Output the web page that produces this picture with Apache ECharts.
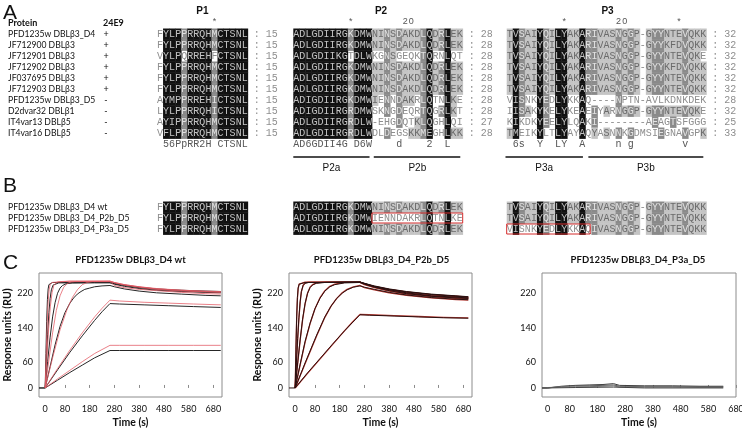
<!DOCTYPE html>
<html><head><meta charset="utf-8">
<script src="https://cdn.jsdelivr.net/npm/echarts@6/dist/echarts.min.js"></script>
<style>html,body{margin:0;padding:0;background:#fff}#c{width:742px;height:430px}</style>
</head><body><div id="c"></div>
<script>
// ================= DATA =================
const namesA = ["PFD1235w DBLβ3_D4","JF712900 DBLβ3","JF712901 DBLβ3","JF712902 DBLβ3","JF037695 DBLβ3","JF712903 DBLβ3","PFD1235w DBLβ3_D5","D2dvar32 DBLβ1","IT4var13 DBLβ5","IT4var16 DBLβ5"];
const bind24E9 = ["+","+","+","+","+","+","-","-","-","-"];
const namesB = ["PFD1235w DBLβ3_D4 wt","PFD1235w DBLβ3_D4_P2b_D5","PFD1235w DBLβ3_D4_P3a_D5"];

const p1SeqA = ["FYLPPRRQHMCTSNL","FYLPPRRQHMCTSNL","VYLPQRREHFCTSNL","FYLPPRRQHMCTSNL","FYLPPRRQHMCTSNL","FYLPPRRQHMCTSNL","AYMPPRREHICTSNL","LYLPPRRQHICTSNL","AYIPPRRQHMCTSNL","VFLPPRRQHMCTSNL"];
const p1ShadeA = [".kkkdkkkkdkkkkk",".kkkdkkkkdkkkkk",".kkk.kkkk.kkkkk",".kkkdkkkkdkkkkk",".kkkdkkkkdkkkkk",".kkkdkkkkdkkkkk",".kkkdkkkkdkkkkk",".kkkdkkkkdkkkkk",".kkkdkkkkdkkkkk",".kkkdkkkkdkkkkk"];
const p1LenA = ["15","15","15","15","15","15","15","15","15","15"];
const p1Cons = " 56PpRR2H CTSNL";
const p1Ruler = "         *     ";

const p2SeqA = ["ADLGDIIRGKDMWNINSDAKDLQDRLEK","ADLGDIIRGKDMWNINSDAKDLQDRLEK","ADLGDIIKGTDLWKGNSGEQKTQRNLQT","ADLGDIIRGKDMWNINSDAKDLQDRLEK","ADLGDIIRGKDMWNINSDAKDLQDRLEK","ADLGDIIRGKDMWNINSDAKDLQDRLEK","ADIGDIIRGKDMWIENNDAKRLQTNLKE","ADIGDIIRGRDMWSKNGDEQRTQGRLKT","ADLGDIIRGRDLW-EHGDQTKLQGHLQI","ADLGDIIRGRDLWDLDEGSKKMEGHLKK"];
const p2ShadeA = ["kkkkkkkkkdkkklldldllldkldkll","kkkkkkkkkdkkklldldllldkldkll","kkkkkkkkk.kkk..dl....dk..k..","kkkkkkkkkdkkklldldllldkldkll","kkkkkkkkkdkkklldldllldkldkll","kkkkkkkkkdkkklldldllldkldkll","kkkkkkkkkdkkkl.d.dll.dk..kl.","kkkkkkkkkdkkk..d.d...dk.dkl.","kkkkkkkkkdkkk....d..ldk..k..","kkkkkkkkkdkkk..d...lldk..kll"];
const p2LenA = ["28","28","28","28","28","28","28","28","27","28"];
const p2Cons = "AD6GDII4G D6W    d    2  L  ";
const p2Ruler = "         *        20        ";

const p3SeqA = ["TVSAIYQILYAKARIVASNGGP-GYYNTEVQKK","TVSAIYQILYAKARIVASNGGP-GYYKFDVQKK","TVSAIYQILYAKARIVASNGGP-GYYNTEVQKE","TVSAIYQILYAKARIVASNGGP-GYYKFDVQKK","TVSAIYQILYAKARIVASNGGP-GYYNTEVQKK","TVSAIYQILYAKARIVASNGGP-GYYNTEVQKK","VISNKYEDLYKKAQ----NPTN-AVLKDNKDEK","IISAKYKELYKEAEIYARNGGP-GYYNTEVQKE","KIKDKYEELYLQAKI--------AEAGTSFGGG","TMEIKYLTLYAYAQYASNNKGDMSIEGNAVGPK"];
const p3ShadeA = ["lkdllkdlkkllkddllldldl.lddllldlll","lkdllkdlkkllkddllldldl.lddllldlll","lkdllkdlkkllkddllldldl.lddllldll.","lkdllkdlkkllkddllldldl.lddllldlll","lkdllkdlkkllkddllldldl.lddllldlll","lkdllkdlkkllkddllldldl.lddllldlll",".kd..kd.kk..k.....d..............",".kdl.kd.kk..k.d.l.dldl.lddllldll.",".k...kd.kk..k.d.........d..d.....","lk...k..kk..k.l.l.d.d....d...d..l"];
const p3LenA = ["32","32","32","32","32","32","28","32","25","33"];
const p3Cons = " 6s  Y  LY  A     n g        v   ";
const p3Ruler = "         *        20        *   ";

const p1SeqB = ["FYLPPRRQHMCTSNL","FYLPPRRQHMCTSNL","FYLPPRRQHMCTSNL"];
const p1ShadeB = [".kkkdkkkkdkkkkk",".kkkdkkkkdkkkkk",".kkkdkkkkdkkkkk"];
const p2SeqB = ["ADLGDIIRGKDMWNINSDAKDLQDRLEK","ADIGDIIRGKDMWIENNDAKRLQTNLKE","ADLGDIIRGKDMWNINSDAKDLQDRLEK"];
const p2ShadeB = ["kkkkkkkkkdkkklldldllldkldkll","kkkkkkkkkdkkk........dk..k..","kkkkkkkkkdkkklldldllldkldkll"];
const p3SeqB = ["TVSAIYQILYAKARIVASNGGP-GYYNTEVQKK","TVSAIYQILYAKARIVASNGGP-GYYNTEVQKK","VISNKYEDLYKKAQIVASNGGP-GYYNTEVQKK"];
const p3ShadeB = ["lkdllkdlkkllkddllldldl.lddllldlll","lkdllkdlkkllkddllldldl.lddllldlll",".k...kd.kk..k.dllldldl.lddllldlll"];
// swapped-segment boxes: [row, fromCol, toCol]
const p2BoxB = [[1, 13, 28]];
const p3BoxB = [[2, 0, 13.8]];

// ---- SPR sensorgrams: [time (s), response (RU)] ----
const timeTicks = [0, 80, 180, 280, 380, 480, 580, 680];
const ruTicks = [0, 60, 140, 220];

const wtData1 = [[-25,0],[0,0],[3,80],[6,155],[9,205],[12,230],[15,240],[20,244],[30,245],[100,245],[200,246],[262,246],[280,243],[320,239],[380,234],[450,230],[550,227],[650,225],[710,224]];
const wtData2 = [[-25,0],[0,0],[5,65],[10,125],[15,175],[20,208],[25,228],[32,239],[40,243],[55,244],[100,244],[200,245],[262,245],[280,242],[320,238],[380,233],[450,229],[550,225],[650,223],[710,222]];
const wtData3 = [[0,0],[10,62],[20,118],[30,165],[40,198],[50,220],[60,232],[70,238],[85,242],[110,244],[200,244],[262,244],[280,241],[320,236],[380,231],[450,227],[550,224],[650,222],[710,221]];
const wtData4 = [[0,0],[20,50],[40,100],[60,143],[80,175],[100,197],[115,209],[130,218],[145,224],[160,229],[180,232],[200,235],[230,237],[262,238],[280,235],[320,230],[380,225],[450,221],[550,218],[650,215],[710,214]];
const wtData5 = [[0,0],[50,42],[100,83],[150,121],[200,157],[230,177],[262,196],[300,195],[400,193],[500,191],[600,189],[710,187]];
const wtData6 = [[0,0],[50,18],[100,36],[150,53],[200,70],[262,87],[300,87],[400,87],[500,87],[600,87],[710,87]];
const wtFit1 = [[0,0],[4,80],[8,150],[12,200],[16,228],[20,240],[27,245],[35,247],[100,248],[262,248],[280,245],[320,240],[380,235],[450,231],[550,227],[650,225],[710,224]];
const wtFit2 = [[0,0],[7,70],[14,138],[21,190],[28,222],[35,238],[45,245],[55,247],[100,248],[262,248],[280,245],[320,240],[380,235],[450,230],[550,227],[650,224],[710,223]];
const wtFit3 = [[0,0],[15,65],[30,128],[45,180],[60,214],[75,234],[90,243],[105,246],[120,247],[262,248],[280,244],[320,239],[380,234],[450,229],[550,225],[650,223],[710,222]];
const wtFit4 = [[0,0],[30,70],[60,135],[90,185],[110,210],[130,228],[150,240],[170,245],[190,247],[262,247],[280,238],[320,233],[380,229],[450,226],[550,222],[650,219],[710,218]];
const wtFit5 = [[0,0],[50,45],[100,88],[150,128],[200,165],[230,185],[262,204],[300,202],[400,199],[500,197],[600,195],[710,193]];
const wtFit6 = [[0,0],[50,21],[100,41],[150,61],[200,80],[262,99],[300,99],[400,99],[500,99],[600,99],[710,99]];

const p2bData1 = [[-25,0],[0,0],[3,90],[6,165],[9,210],[12,232],[16,241],[22,244],[40,245],[262,246],[280,243],[320,237],[380,230],[450,224],[550,218],[650,214],[700,212]];
const p2bData2 = [[0,0],[5,60],[10,115],[15,163],[20,200],[25,224],[32,238],[40,243],[55,245],[100,245],[262,246],[280,243],[320,236],[380,229],[450,223],[550,217],[650,213],[700,211]];
const p2bData3 = [[0,0],[10,58],[20,112],[30,160],[40,196],[50,220],[60,233],[70,239],[85,243],[120,245],[262,246],[280,242],[320,235],[380,228],[450,221],[550,214],[650,211],[700,209]];
const p2bData4 = [[0,0],[20,55],[40,108],[60,150],[80,184],[100,208],[120,225],[140,235],[160,240],[200,244],[262,245],[280,241],[320,234],[380,226],[450,219],[550,213],[650,209],[700,208]];
const p2bData5 = [[0,0],[40,58],[87,123],[120,165],[145,190],[168,208],[190,220],[210,228],[235,234],[262,237],[280,234],[320,229],[380,222],[450,216],[550,210],[650,206],[700,205]];
const p2bData6 = [[0,0],[50,35],[100,68],[150,101],[200,133],[230,151],[262,170],[300,169],[400,167],[500,165],[600,163],[700,162]];
const p2bFit1 = [[0,0],[3,86],[6,160],[9,207],[12,231],[16,241],[22,245],[40,246],[262,246],[280,242],[320,236],[380,229],[450,223],[550,217],[650,213],[700,211]];
const p2bFit2 = [[0,0],[5,58],[10,112],[15,160],[20,198],[25,223],[32,238],[40,244],[55,246],[100,246],[262,246],[280,242],[320,235],[380,228],[450,222],[550,216],[650,212],[700,210]];
const p2bFit3 = [[0,0],[10,56],[20,110],[30,158],[40,195],[50,220],[60,234],[70,240],[85,244],[120,246],[262,246],[280,241],[320,234],[380,227],[450,220],[550,213],[650,210],[700,208]];
const p2bFit4 = [[0,0],[20,53],[40,106],[60,149],[80,184],[100,209],[120,226],[140,236],[160,241],[200,245],[262,245],[280,240],[320,233],[380,225],[450,218],[550,212],[650,208],[700,207]];
const p2bFit5 = [[0,0],[40,56],[87,121],[120,164],[145,190],[168,208],[190,221],[210,229],[235,235],[262,238],[280,233],[320,228],[380,221],[450,215],[550,209],[650,205],[700,204]];
const p2bFit6 = [[0,0],[50,34],[100,67],[150,100],[200,133],[230,152],[262,171],[300,170],[400,168],[500,166],[600,164],[700,163]];

const p3aData1 = [[-20,0],[0,0],[50,4],[100,6],[150,7],[200,8],[238,10],[260,6],[350,5],[450,5],[550,4],[634,4]];
const p3aData2 = [[-20,0],[0,0],[50,3],[100,5],[150,5],[200,6],[238,7],[260,4],[350,3],[450,3],[550,3],[634,3]];
const p3aData3 = [[-20,0],[0,1],[50,2],[100,3],[150,3],[200,4],[238,5],[260,2],[350,2],[450,2],[550,1],[634,1]];
const p3aData4 = [[-20,0],[0,0],[100,1],[238,2],[350,0],[634,0]];

// ================= LAYOUT =================
const CW = 6.05, RH = 11;
const ROW0_A = 34, ROW0_B = 207;
const LEFT = {P1: 157, P2: 293.3, P3: 506.7};
const NC = {P1: 15, P2: 28, P3: 33};
const RULER_ROW = -1.2;
const MONO = '10px "Liberation Mono", "DejaVu Sans Mono", monospace';
const SANS = 'Lato, "Liberation Sans", sans-serif';
const SHADE = {
  k: {fill: '#111111', text: '#c4c4c4'},
  d: {fill: '#8a8a8a', text: '#e2e2e2'},
  l: {fill: '#c4c4c4', text: '#6a6a6a'},
  '.': {fill: null, text: '#8e8e8e'}
};

const grids = [], xAxes = [], yAxes = [], series = [];
function addAlignGrid(block, rowTop, nRows) {
  const gi = grids.length;
  grids.push({left: LEFT[block], top: rowTop - RH / 2, width: NC[block] * CW, height: nRows * RH, containLabel: false, outerBoundsMode: 'none'});
  xAxes.push({gridIndex: gi, type: 'value', min: 0, max: NC[block], show: false});
  yAxes.push({gridIndex: gi, type: 'value', min: -0.5, max: nRows - 0.5, inverse: true, show: false});
  return gi;
}

function cellSeries(gi, seqs, shades) {
  const items = [];
  seqs.forEach((s, r) => { for (let c = 0; c < s.length; c++) items.push({c, r, ch: s[c], sh: (shades[r] && shades[r][c]) || '.'}); });
  return {
    type: 'custom', xAxisIndex: gi, yAxisIndex: gi, clip: false, silent: true, animation: false,
    encode: {x: 0, y: 1}, data: items.map(d => [d.c, d.r]),
    renderItem(params, api) {
      const d = items[params.dataIndex];
      const sz = api.size([1, 1]);
      const ctr = api.coord([d.c + 0.5, d.r]);
      const st = SHADE[d.sh] || SHADE['.'];
      const ch = [];
      if (st.fill) ch.push({type: 'rect', shape: {x: ctr[0] - sz[0] / 2, y: ctr[1] - sz[1] / 2, width: sz[0] + 0.4, height: sz[1] + 0.4}, style: {fill: st.fill}});
      ch.push({type: 'text', x: ctr[0], y: ctr[1] + 0.5, style: {text: d.ch, fill: st.text, font: MONO, align: 'center', verticalAlign: 'middle'}});
      return {type: 'group', children: ch};
    }
  };
}

function textRowSeries(gi, str, row, color, font) {
  const items = [];
  for (let c = 0; c < str.length; c++) if (str[c] !== ' ') items.push({c, ch: str[c]});
  return {
    type: 'custom', xAxisIndex: gi, yAxisIndex: gi, clip: false, silent: true, animation: false,
    encode: {x: 0, y: 1}, data: items.map(d => [d.c, row]),
    renderItem(params, api) {
      const d = items[params.dataIndex];
      const p = api.coord([d.c + 0.5, row]);
      return {type: 'text', x: p[0], y: p[1] + 0.5, style: {text: d.ch, fill: color, font: font, align: 'center', verticalAlign: 'middle'}};
    }
  };
}

function suffixSeries(gi, lens, ncols) {
  return {
    type: 'custom', xAxisIndex: gi, yAxisIndex: gi, clip: false, silent: true, animation: false,
    encode: {x: 0, y: 1}, data: lens.map((v, r) => [ncols, r]),
    renderItem(params, api) {
      const r = params.dataIndex;
      const p = api.coord([ncols, r]);
      return {type: 'text', x: p[0], y: p[1] + 0.5, style: {text: ' : ' + lens[r], fill: '#8e8e8e', font: MONO, align: 'left', verticalAlign: 'middle'}};
    }
  };
}

function boxSeries(gi, boxes) {
  return {
    type: 'custom', xAxisIndex: gi, yAxisIndex: gi, clip: false, silent: true, animation: false,
    encode: {x: 0, y: 1}, data: boxes.map(b => [b[1], b[0]]),
    renderItem(params, api) {
      const b = boxes[params.dataIndex];
      const p0 = api.coord([b[1], b[0]]), p1 = api.coord([b[2], b[0]]);
      const h = api.size([1, 1])[1];
      return {type: 'rect', shape: {x: p0[0], y: p0[1] - h / 2 + 0.5, width: p1[0] - p0[0], height: h - 1}, style: {fill: null, stroke: '#d42a2a', lineWidth: 1}};
    }
  };
}

function namesSeries(gi, names, marks) {
  return {
    type: 'custom', xAxisIndex: gi, yAxisIndex: gi, clip: false, silent: true, animation: false,
    encode: {x: 0, y: 1}, data: names.map((n, r) => [0, r]),
    renderItem(params, api) {
      const r = params.dataIndex;
      const y = api.coord([0, r])[1];
      const ch = [{type: 'text', x: 8, y: y, style: {text: names[r], fill: '#111', font: '8.6px ' + SANS, align: 'left', verticalAlign: 'middle'}}];
      if (marks) ch.push({type: 'text', x: 106, y: y, style: {text: marks[r], fill: '#111', font: '9px ' + SANS, align: 'center', verticalAlign: 'middle'}});
      return {type: 'group', children: ch};
    }
  };
}

// --- Panel A ---
const gA1 = addAlignGrid('P1', ROW0_A, 11), gA2 = addAlignGrid('P2', ROW0_A, 11), gA3 = addAlignGrid('P3', ROW0_A, 11);
series.push(cellSeries(gA1, p1SeqA, p1ShadeA), cellSeries(gA2, p2SeqA, p2ShadeA), cellSeries(gA3, p3SeqA, p3ShadeA));
series.push(suffixSeries(gA1, p1LenA, NC.P1), suffixSeries(gA2, p2LenA, NC.P2), suffixSeries(gA3, p3LenA, NC.P3));
series.push(textRowSeries(gA1, p1Cons, 10, '#555', MONO), textRowSeries(gA2, p2Cons, 10, '#555', MONO), textRowSeries(gA3, p3Cons, 10, '#555', MONO));
const RULER_FONT = '9px "Liberation Sans", sans-serif';
series.push(textRowSeries(gA1, p1Ruler, RULER_ROW, '#555', RULER_FONT), textRowSeries(gA2, p2Ruler, RULER_ROW, '#555', RULER_FONT), textRowSeries(gA3, p3Ruler, RULER_ROW, '#555', RULER_FONT));
series.push(namesSeries(gA1, namesA, bind24E9));
// --- Panel B ---
const gB1 = addAlignGrid('P1', ROW0_B, 3), gB2 = addAlignGrid('P2', ROW0_B, 3), gB3 = addAlignGrid('P3', ROW0_B, 3);
series.push(cellSeries(gB1, p1SeqB, p1ShadeB), cellSeries(gB2, p2SeqB, p2ShadeB), cellSeries(gB3, p3SeqB, p3ShadeB));
series.push(boxSeries(gB2, p2BoxB), boxSeries(gB3, p3BoxB));
series.push(namesSeries(gB1, namesB, null));

// --- Panel C charts ---
const LBL = {fontFamily: SANS, fontSize: 9, color: '#111'};
const NAME = {fontFamily: SANS, fontSize: 10.5, fontWeight: 'bold', color: '#111'};
function addChart(left, width, xmin, xmax, showYName) {
  const gi = grids.length;
  grids.push({left: left, top: 273, width: width, height: 124, show: true, borderColor: '#8c8c8c', borderWidth: 1, containLabel: false, outerBoundsMode: 'none'});
  xAxes.push({gridIndex: gi, type: 'value', min: xmin, max: xmax, axisLine: {show: false}, splitLine: {show: false},
    axisTick: {show: true, inside: true, length: 3, lineStyle: {color: '#8c8c8c'}, customValues: timeTicks.slice(1)},
    axisLabel: {...LBL, margin: 8, customValues: timeTicks, showMinLabel: true, showMaxLabel: true},
    name: 'Time (s)', nameLocation: 'middle', nameGap: 20, nameTextStyle: NAME});
  yAxes.push({gridIndex: gi, type: 'value', min: -21, max: 267, axisLine: {show: false}, splitLine: {show: false}, axisTick: {show: false},
    axisLabel: {...LBL, margin: 6, customValues: ruTicks},
    name: showYName ? 'Response units (RU)' : '', nameLocation: 'middle', nameGap: 24, nameTextStyle: NAME});
  return gi;
}
function line(gi, data, color, width, z) {
  return {type: 'line', xAxisIndex: gi, yAxisIndex: gi, data: data, showSymbol: false, symbol: 'none', smooth: false,
    lineStyle: {color: color, width: width, join: 'round'}, silent: true, animation: false, z: z};
}
const c1 = addChart(39, 183, -25, 715, true);
const c2 = addChart(289, 183, -25, 715, true);
const c3 = addChart(542, 194, -20, 680, false);
[wtData1, wtData2, wtData3, wtData4, wtData5, wtData6].forEach(d => series.push(line(c1, d, '#262626', 1, 2)));
[wtFit1, wtFit2, wtFit3, wtFit4, wtFit5, wtFit6].forEach(d => series.push(line(c1, d, 'rgba(228,90,100,0.85)', 0.9, 3)));
[p2bFit1, p2bFit2, p2bFit3, p2bFit4, p2bFit5, p2bFit6].forEach(d => series.push(line(c2, d, '#b83a32', 1.3, 2)));
[p2bData1, p2bData2, p2bData3, p2bData4, p2bData5, p2bData6].forEach(d => series.push(line(c2, d, '#2a1010', 1, 3)));
[[p3aData1, '#3c3c3c'], [p3aData2, '#5a5a5a'], [p3aData3, '#7a7a7a'], [p3aData4, '#444']].forEach(p => series.push(line(c3, p[0], p[1], 1, 2)));

// ================= ANNOTATIONS =================
function txt(x, y, text, font, color, align) {
  return {type: 'text', x: x, y: y, silent: true, style: {text: text, font: font, fill: color || '#111', align: align || 'left', verticalAlign: 'middle'}};
}
function seg(x1, x2, y) {
  return {type: 'line', silent: true, shape: {x1: x1, y1: y, x2: x2, y2: y}, style: {stroke: '#111', lineWidth: 1.5}};
}
const ARIAL = '"Liberation Sans", Arial, sans-serif';
const graphic = [
  txt(3, 13, 'A', '21px ' + ARIAL), txt(3, 186, 'B', '21px ' + ARIAL), txt(3, 263, 'C', '21px ' + ARIAL),
  txt(8, 23, 'Protein', 'bold 9px ' + SANS), txt(103, 23, '24E9', 'bold 9px ' + SANS),
  txt(LEFT.P1 + NC.P1 * CW / 2, 11, 'P1', 'bold 10px ' + ARIAL, '#111', 'center'),
  txt(LEFT.P2 + NC.P2 * CW / 2 + 3, 11, 'P2', 'bold 10px ' + ARIAL, '#111', 'center'),
  txt(LEFT.P3 + NC.P3 * CW / 2 + 1, 11, 'P3', 'bold 10px ' + ARIAL, '#111', 'center'),
  seg(LEFT.P2, LEFT.P2 + 12.6 * CW, 157), seg(LEFT.P2 + 13.3 * CW, LEFT.P2 + 27.6 * CW, 157),
  seg(LEFT.P3 - 0.2 * CW, LEFT.P3 + 12.6 * CW, 157), seg(LEFT.P3 + 13.5 * CW, LEFT.P3 + 32.5 * CW, 157),
  txt(LEFT.P2 + 6.3 * CW, 168, 'P2a', '10px ' + ARIAL, '#111', 'center'),
  txt(LEFT.P2 + 20.5 * CW, 168, 'P2b', '10px ' + ARIAL, '#111', 'center'),
  txt(LEFT.P3 + 6.2 * CW, 168, 'P3a', '10px ' + ARIAL, '#111', 'center'),
  txt(LEFT.P3 + 23 * CW, 168, 'P3b', '10px ' + ARIAL, '#111', 'center'),
  txt(39 + 183 / 2, 260, 'PFD1235w DBLβ3_D4 wt', 'bold 9.5px ' + SANS, '#111', 'center'),
  txt(289 + 183 / 2 + 1, 260, 'PFD1235w DBLβ3_D4_P2b_D5', 'bold 9.5px ' + SANS, '#111', 'center'),
  txt(542 + 194 / 2 - 1, 260, 'PFD1235w DBLβ3_D4_P3a_D5', 'bold 9.5px ' + SANS, '#111', 'center')
];

const chart = echarts.init(document.getElementById('c'), null, {renderer: 'canvas'});
chart.setOption({
  animation: false,
  backgroundColor: '#ffffff',
  grid: grids, xAxis: xAxes, yAxis: yAxes, series: series, graphic: graphic
});
</script></body></html>
